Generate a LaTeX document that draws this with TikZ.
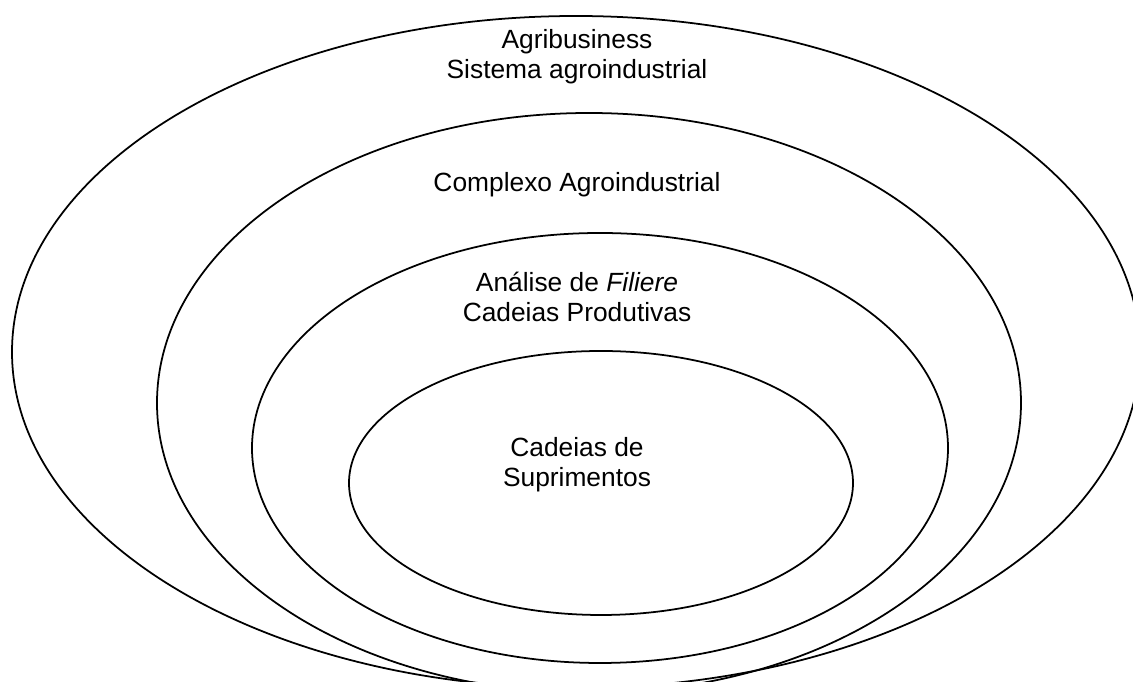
\documentclass[tikz,border=0pt]{standalone}
\usepackage{fontspec}
\setmainfont{Liberation Sans}
\usetikzlibrary{calc}

\begin{document}
\begin{tikzpicture}[x=0.016cm, y=0.016cm, line width=0.8pt,
    ringtext/.style={align=center, inner sep=0pt, font=\fontsize{12}{13.7}\selectfont}]
    \useasboundingbox (0,0) rectangle (1133,682);
    \clip (0,0) rectangle (1133,682);

    % centres of the rings
    \coordinate (agric) at (576,330);
    \coordinate (compc) at (589,279);
    \coordinate (filc) at (600,234);
    \coordinate (supc) at (601,199);

    \draw (agric) ellipse [x radius=564, y radius=336];
    \draw (compc) ellipse [x radius=432, y radius=290];
    \draw (filc) ellipse [x radius=348, y radius=215];
    \draw (supc) ellipse [x radius=252, y radius=132];

    \node[ringtext] (agri) at (577,625) {Agribusiness\\Sistema agroindustrial};
    \node[ringtext] (comp) at (577,497) {Complexo Agroindustrial};
    \node[ringtext] (fil) at (577,385) {Análise de \textit{Filiere}\\Cadeias Produtivas};
    \node[ringtext] (sup) at (577,217) {Cadeias de\\Suprimentos};
\end{tikzpicture}
\end{document}
